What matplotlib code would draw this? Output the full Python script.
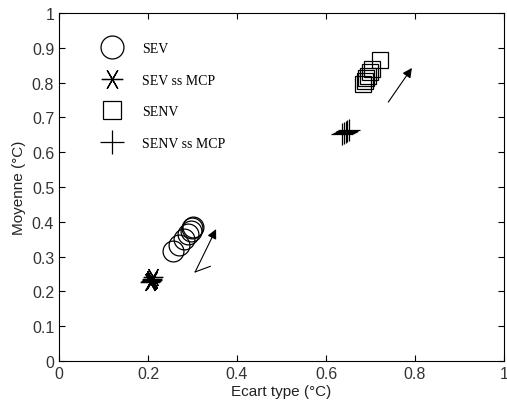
import matplotlib
matplotlib.use("Agg")
import matplotlib.pyplot as plt

# Data
sev_x = [0.256, 0.270, 0.281, 0.291, 0.296, 0.299, 0.301]
sev_y = [0.316, 0.332, 0.350, 0.366, 0.375, 0.381, 0.386]
sevmcp_x = [0.205, 0.207, 0.208, 0.210, 0.211]
sevmcp_y = [0.226, 0.230, 0.234, 0.237, 0.240]
senv_x = [0.683, 0.687, 0.691, 0.695, 0.699, 0.703, 0.721]
senv_y = [0.796, 0.804, 0.812, 0.820, 0.830, 0.840, 0.865]
senvmcp_x = [0.636, 0.640, 0.644, 0.648, 0.652]
senvmcp_y = [0.652, 0.655, 0.658, 0.661, 0.664]

arrow_sev = [(0.306, 0.256), (0.353, 0.379)]
arrow_sev_branch = [(0.306, 0.256), (0.340, 0.272)]
arrow_senv = [(0.740, 0.744), (0.793, 0.842)]

xticks = [0, 0.2, 0.4, 0.6, 0.8, 1]
xticklabels = ["0", "0.2", "0.4", "0.6", "0.8", "1"]
yticks = [0, 0.1, 0.2, 0.3, 0.4, 0.5, 0.6, 0.7, 0.8, 0.9, 1]
yticklabels = ["0", "0.1", "0.2", "0.3", "0.4", "0.5", "0.6", "0.7", "0.8", "0.9", "1"]

plt.rcParams['font.family'] = ['Liberation Sans', 'DejaVu Sans']

fig = plt.figure(figsize=(5.07, 4.10), dpi=100)
ax = fig.add_axes([59/507, 48/410, 445/507, 348/410])

lw = 0.9
ax.plot(sev_x, sev_y, linestyle='none', marker='o', markersize=15,
        markerfacecolor='none', markeredgecolor='black', markeredgewidth=lw, label='SEV')
ax.plot(sevmcp_x, sevmcp_y, linestyle='none', marker=(6, 2, 90), markersize=14,
        color='black', markeredgewidth=lw, label='SEV ss MCP')
ax.plot(senv_x, senv_y, linestyle='none', marker='s', markersize=12,
        markerfacecolor='none', markeredgecolor='black', markeredgewidth=lw, label='SENV')
ax.plot(senvmcp_x, senvmcp_y, linestyle='none', marker='+', markersize=16,
        color='black', markeredgewidth=lw, label='SENV ss MCP')

for (a, b) in [arrow_sev, arrow_senv]:
    ax.annotate('', xy=b, xytext=a,
                arrowprops=dict(arrowstyle='-|>', color='black', lw=0.8,
                                mutation_scale=14, shrinkA=0, shrinkB=0))
ax.plot([arrow_sev_branch[0][0], arrow_sev_branch[1][0]],
        [arrow_sev_branch[0][1], arrow_sev_branch[1][1]], color='black', lw=0.8)

ax.set_xlim(0, 1)
ax.set_ylim(0, 1)
ax.set_xticks(xticks)
ax.set_xticklabels(xticklabels)
ax.set_yticks(yticks)
ax.set_yticklabels(yticklabels)
ax.tick_params(direction='in', top=True, right=True, labelsize=11.5, length=4, width=0.8,
               colors='black', labelcolor='#333333')
for s in ax.spines.values():
    s.set_linewidth(0.8)
ax.set_xlabel('Ecart type (°C)', fontsize=11, labelpad=2, color='#222222')
ax.set_ylabel('Moyenne (°C)', fontsize=11, labelpad=4, color='#222222')

leg = ax.legend(loc='upper left', bbox_to_anchor=(0.075, 0.932), frameon=False,
                prop={'family': ['Liberation Serif', 'DejaVu Serif'], 'size': 10},
                labelspacing=1.33, handletextpad=1.2, handlelength=2.0, numpoints=1,
                borderaxespad=0, markerscale=1.1)

fig.savefig('out.png', dpi=100)
